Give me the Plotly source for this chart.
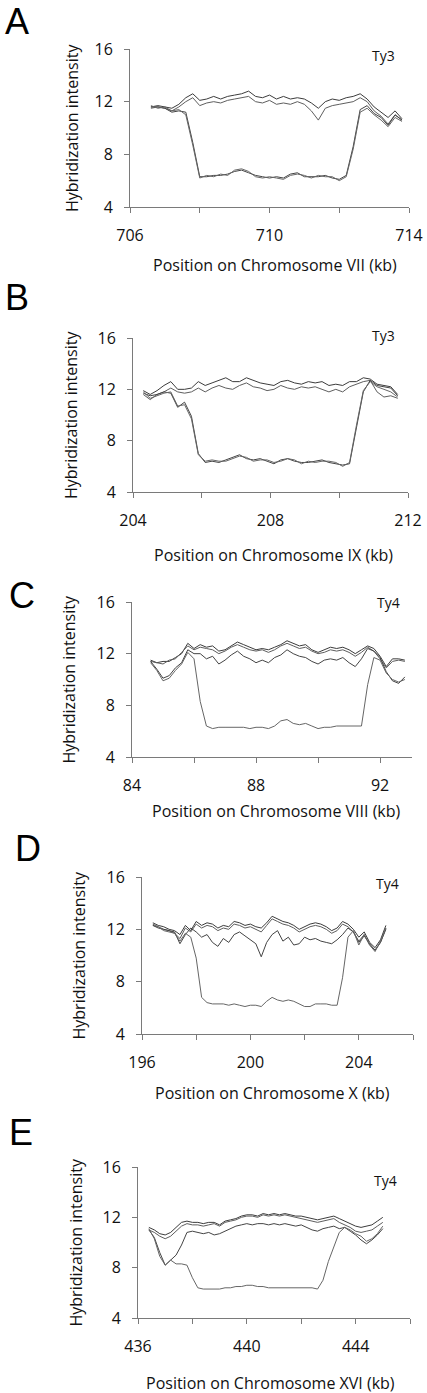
import plotly.graph_objects as go

# ---------------- data ----------------
# Panel A : Chromosome VII, Ty3
pos_a = [706.6, 706.8, 707.0, 707.2, 707.4, 707.6, 707.8, 708.0, 708.2, 708.4, 708.6, 708.8,
         709.0, 709.2, 709.4, 709.6, 709.8, 710.0, 710.2, 710.4, 710.6, 710.8, 711.0, 711.2,
         711.4, 711.6, 711.8, 712.0, 712.2, 712.4, 712.6, 712.8, 713.0, 713.2, 713.4, 713.6, 713.8]
a_top1 = [11.6, 11.7, 11.6, 11.5, 11.8, 12.3, 12.6, 12.1, 12.2, 12.4, 12.2, 12.4, 12.5, 12.6, 12.8, 12.4,
          12.3, 12.5, 12.2, 12.4, 12.2, 12.3, 12.2, 11.9, 11.5, 12.0, 12.2, 12.1, 12.3, 12.4, 12.6, 12.2,
          11.6, 11.2, 10.8, 11.3, 10.7]
a_top2 = [11.5, 11.6, 11.5, 11.3, 11.6, 12.0, 12.3, 11.7, 11.9, 12.0, 11.9, 12.1, 12.2, 12.3, 12.4, 12.0,
          11.9, 12.1, 11.8, 11.9, 11.8, 12.0, 11.8, 11.3, 10.6, 11.5, 11.7, 11.8, 11.9, 12.0, 12.3, 12.0,
          11.3, 10.9, 10.3, 11.0, 10.6]
a_low1 = [11.6, 11.6, 11.5, 11.2, 11.3, 11.2, 8.9, 6.3, 6.3, 6.4, 6.4, 6.5, 6.7, 6.8, 6.6, 6.4,
          6.3, 6.2, 6.3, 6.2, 6.5, 6.6, 6.3, 6.3, 6.3, 6.4, 6.2, 6.1, 6.4, 8.6, 11.4, 11.7,
          11.1, 10.8, 10.2, 11.0, 10.6]
a_low2 = [11.7, 11.5, 11.6, 11.3, 11.4, 11.0, 8.7, 6.2, 6.4, 6.3, 6.5, 6.4, 6.8, 6.9, 6.7, 6.3,
          6.2, 6.3, 6.2, 6.1, 6.4, 6.5, 6.4, 6.2, 6.4, 6.3, 6.3, 6.0, 6.3, 8.4, 11.2, 11.5,
          11.0, 10.6, 10.1, 10.8, 10.5]

# Panel B : Chromosome IX, Ty3
pos_b = [204.3, 204.5, 204.7, 204.9, 205.1, 205.3, 205.5, 205.7, 205.9, 206.1, 206.3, 206.5,
         206.7, 206.9, 207.1, 207.3, 207.5, 207.7, 207.9, 208.1, 208.3, 208.5, 208.7, 208.9,
         209.1, 209.3, 209.5, 209.7, 209.9, 210.1, 210.3, 210.5, 210.7, 210.9, 211.1, 211.3, 211.5, 211.7]
b_top1 = [11.9, 11.6, 11.9, 12.3, 12.6, 12.0, 12.0, 12.1, 12.6, 12.3, 12.5, 12.7, 12.9, 12.6, 12.6, 12.9,
          12.7, 12.5, 12.4, 12.3, 12.6, 12.7, 12.5, 12.4, 12.6, 12.5, 12.6, 12.3, 12.4, 12.3, 12.6, 12.6,
          12.9, 12.8, 12.4, 12.3, 12.2, 11.6]
b_top2 = [11.6, 11.2, 11.6, 11.8, 12.1, 11.8, 11.7, 11.8, 12.1, 11.8, 12.1, 12.3, 12.1, 12.0, 12.3, 12.5,
          12.2, 12.1, 11.9, 12.0, 12.3, 12.1, 12.0, 12.2, 12.1, 12.2, 12.0, 11.8, 12.0, 11.8, 12.2, 12.4,
          12.6, 12.7, 11.8, 11.4, 11.5, 11.3]
b_low1 = [11.7, 11.5, 11.6, 11.8, 11.7, 10.6, 11.0, 9.9, 7.0, 6.3, 6.4, 6.3, 6.5, 6.7, 6.9, 6.6,
          6.5, 6.6, 6.4, 6.2, 6.5, 6.6, 6.4, 6.3, 6.3, 6.4, 6.5, 6.3, 6.2, 6.1, 6.2, 9.0,
          11.8, 12.7, 12.3, 12.2, 12.1, 11.5]
b_low2 = [11.8, 11.3, 11.5, 11.7, 11.8, 10.7, 10.8, 9.7, 6.9, 6.4, 6.5, 6.4, 6.4, 6.6, 6.8, 6.7,
          6.4, 6.5, 6.5, 6.3, 6.4, 6.6, 6.5, 6.2, 6.4, 6.3, 6.4, 6.4, 6.3, 6.0, 6.3, 9.2,
          11.9, 12.6, 12.2, 12.0, 11.8, 11.4]

# Panel C : Chromosome VIII, Ty4
pos_c = [84.6, 84.8, 85.0, 85.2, 85.4, 85.6, 85.8, 86.0, 86.2, 86.4, 86.6, 86.8, 87.0, 87.2,
         87.4, 87.6, 87.8, 88.0, 88.2, 88.4, 88.6, 88.8, 89.0, 89.2, 89.4, 89.6, 89.8, 90.0,
         90.2, 90.4, 90.6, 90.8, 91.0, 91.2, 91.4, 91.6, 91.8, 92.0, 92.2, 92.4, 92.6, 92.8]
c_top1 = [11.5, 11.3, 11.4, 11.4, 11.7, 12.0, 12.8, 12.4, 12.7, 12.5, 12.6, 12.2, 12.3, 12.6,
          12.9, 12.7, 12.5, 12.3, 12.4, 12.3, 12.5, 12.7, 13.0, 12.8, 12.6, 12.7, 12.3, 12.1,
          12.3, 12.5, 12.4, 12.5, 12.3, 12.0, 12.3, 12.6, 12.4, 11.8, 11.0, 11.6, 11.6, 11.5]
c_top2 = [11.4, 11.3, 11.2, 11.5, 11.6, 12.1, 12.6, 12.3, 12.5, 12.4, 12.3, 12.0, 12.2, 12.5,
          12.7, 12.5, 12.3, 12.2, 12.3, 12.1, 12.3, 12.6, 12.8, 12.6, 12.4, 12.5, 12.2, 12.0,
          12.1, 12.3, 12.2, 12.3, 12.1, 11.8, 12.1, 12.5, 12.2, 11.6, 10.9, 11.4, 11.5, 11.4]
c_mid = [11.4, 10.8, 10.1, 10.3, 10.9, 11.3, 12.3, 12.0, 12.0, 11.6, 11.8, 11.2, 11.5, 11.9,
         12.2, 11.8, 11.6, 11.3, 11.5, 11.3, 11.7, 11.9, 12.3, 12.0, 11.8, 11.7, 11.4, 11.2,
         11.5, 11.6, 11.5, 11.7, 11.3, 11.0, 11.6, 12.4, 12.2, 11.7, 10.6, 9.9, 9.7, 10.2]
c_low = [11.3, 10.7, 9.9, 10.1, 10.7, 11.2, 12.1, 11.6, 8.3, 6.4, 6.2, 6.3, 6.3, 6.3,
         6.3, 6.3, 6.2, 6.3, 6.3, 6.2, 6.4, 6.8, 6.9, 6.6, 6.5, 6.6, 6.4, 6.2,
         6.3, 6.3, 6.4, 6.4, 6.4, 6.4, 6.4, 9.6, 11.7, 11.5, 10.5, 10.0, 9.8, 10.0]

# Panel D : Chromosome X, Ty4
pos_d = [196.4, 196.6, 196.8, 197.0, 197.2, 197.4, 197.6, 197.8, 198.0, 198.2, 198.4, 198.6,
         198.8, 199.0, 199.2, 199.4, 199.6, 199.8, 200.0, 200.2, 200.4, 200.6, 200.8, 201.0,
         201.2, 201.4, 201.6, 201.8, 202.0, 202.2, 202.4, 202.6, 202.8, 203.0, 203.2, 203.4,
         203.6, 203.8, 204.0, 204.2, 204.4, 204.6, 204.8, 205.0]
d_top1 = [12.5, 12.3, 12.2, 12.0, 11.9, 11.6, 12.3, 11.9, 12.6, 12.3, 12.5, 12.4, 12.1, 12.3, 12.2,
          12.6, 12.5, 12.3, 12.4, 12.2, 12.1, 12.5, 13.0, 12.8, 12.6, 12.5, 12.3, 12.0, 12.2, 12.4,
          12.5, 12.4, 12.2, 11.9, 12.1, 12.6, 12.4, 12.0, 11.4, 11.8, 11.0, 10.6, 11.2, 12.3]
d_top2 = [12.3, 12.2, 12.0, 11.9, 11.7, 11.3, 12.1, 11.8, 12.4, 12.1, 12.3, 12.2, 11.9, 12.1, 12.0,
          12.4, 12.3, 12.1, 12.2, 12.0, 11.8, 12.3, 12.8, 12.6, 12.4, 12.3, 12.1, 11.8, 12.0, 12.2,
          12.3, 12.2, 12.0, 11.7, 11.9, 12.4, 12.2, 11.8, 11.1, 11.6, 10.8, 10.4, 11.0, 12.1]
d_mid = [12.3, 12.1, 12.0, 11.9, 11.8, 10.9, 11.6, 12.1, 11.8, 11.4, 11.6, 11.0, 10.7, 11.3, 11.0,
         11.6, 11.8, 11.5, 11.2, 10.9, 9.9, 11.0, 11.6, 11.9, 11.1, 11.4, 10.8, 10.9, 11.4, 11.2,
         11.3, 11.1, 11.0, 10.9, 11.2, 11.6, 12.1, 11.8, 11.0, 11.5, 10.9, 10.4, 11.0, 12.0]
d_low = [12.4, 12.2, 11.9, 11.8, 11.7, 11.1, 11.7, 11.4, 9.8, 6.8, 6.4, 6.3, 6.3, 6.3, 6.2,
         6.3, 6.2, 6.1, 6.2, 6.2, 6.1, 6.5, 6.8, 6.6, 6.5, 6.6, 6.5, 6.3, 6.1, 6.1,
         6.3, 6.3, 6.3, 6.2, 6.2, 8.3, 11.4, 11.9, 10.8, 11.6, 10.8, 10.3, 11.1, 12.1]

# Panel E : Chromosome XVI, Ty4
pos_e = [436.4, 436.6, 436.8, 437.0, 437.2, 437.4, 437.6, 437.8, 438.0, 438.2, 438.4, 438.6,
         438.8, 439.0, 439.2, 439.4, 439.6, 439.8, 440.0, 440.2, 440.4, 440.6, 440.8, 441.0,
         441.2, 441.4, 441.6, 441.8, 442.0, 442.2, 442.4, 442.6, 442.8, 443.0, 443.2, 443.4,
         443.6, 443.8, 444.0, 444.2, 444.4, 444.6, 444.8, 445.0]
e_top1 = [11.2, 11.0, 10.7, 10.6, 10.8, 11.2, 11.6, 11.7, 11.6, 11.6, 11.5, 11.6, 11.6, 11.4, 11.7,
          11.8, 11.9, 12.1, 12.2, 12.2, 12.1, 12.3, 12.2, 12.3, 12.2, 12.3, 12.2, 12.1, 12.1, 12.0,
          11.9, 11.8, 11.9, 12.0, 12.1, 11.9, 11.7, 11.5, 11.3, 11.2, 11.3, 11.4, 11.7, 12.0]
e_top2 = [11.0, 10.8, 10.5, 10.3, 10.5, 10.9, 11.3, 11.5, 11.4, 11.4, 11.3, 11.4, 11.5, 11.3, 11.6,
          11.7, 11.8, 12.0, 12.1, 12.1, 12.0, 12.2, 12.1, 12.2, 12.1, 12.2, 12.1, 12.0, 11.9, 11.8,
          11.7, 11.6, 11.7, 11.8, 11.9, 11.6, 11.4, 11.2, 10.9, 10.8, 10.9, 11.0, 11.3, 11.6]
e_mid = [11.0, 10.4, 9.2, 8.2, 8.6, 9.0, 9.8, 10.8, 10.9, 10.8, 10.7, 10.8, 10.6, 10.7, 10.9,
         11.1, 11.3, 11.4, 11.5, 11.4, 11.5, 11.5, 11.4, 11.5, 11.4, 11.5, 11.4, 11.3, 11.4, 11.2,
         11.0, 10.9, 11.1, 11.2, 11.3, 11.1, 11.2, 10.9, 10.6, 10.2, 9.9, 10.2, 10.6, 11.1]
e_low = [11.1, 10.3, 8.9, 8.2, 8.6, 8.3, 8.3, 8.2, 7.2, 6.4, 6.3, 6.3, 6.3, 6.3, 6.4,
         6.4, 6.5, 6.5, 6.6, 6.6, 6.5, 6.5, 6.4, 6.4, 6.4, 6.4, 6.4, 6.4, 6.4, 6.4,
         6.4, 6.3, 7.0, 8.5, 9.7, 10.8, 11.2, 11.0, 10.7, 10.5, 10.1, 10.3, 10.7, 11.3]

y_ticks = [4, 8, 12, 16]

panels = [
    dict(letter="A", label="Ty3", title="Position on Chromosome VII (kb)",
         pos=pos_a, series=[a_top1, a_top2, a_low1, a_low2],
         xrange=[706, 714], xticks=[706, 708, 710, 712, 714], xlabels=["706", "", "710", "", "714"],
         px=(130, 409), py=(49, 207), lx=17, ly=22, yt_x=72, xt_y=265, xt_x=275, ty=(383, 55)),
    dict(letter="B", label="Ty3", title="Position on Chromosome IX (kb)",
         pos=pos_b, series=[b_top1, b_top2, b_low1, b_low2],
         xrange=[204, 212], xticks=[204, 206, 208, 210, 212], xlabels=["204", "", "208", "", "212"],
         px=(133, 408), py=(338, 492), lx=17, ly=298, yt_x=71, xt_y=555, xt_x=273, ty=(383, 335)),
    dict(letter="C", label="Ty4", title="Position on Chromosome VIII (kb)",
         pos=pos_c, series=[c_top1, c_top2, c_mid, c_low],
         xrange=[84, 93.03], xticks=[84, 86, 88, 90, 92], xlabels=["84", "", "88", "", "92"],
         px=(132, 412), py=(602, 757), lx=22, ly=595, yt_x=68, xt_y=811, xt_x=276, ty=(388, 602)),
    dict(letter="D", label="Ty4", title="Position on Chromosome X (kb)",
         pos=pos_d, series=[d_top1, d_top2, d_mid, d_low],
         xrange=[196, 206], xticks=[196, 198, 200, 202, 204, 206], xlabels=["196", "", "200", "", "204", ""],
         px=(142, 413), py=(877, 1034), lx=28, ly=848, yt_x=78, xt_y=1093, xt_x=272, ty=(387, 883)),
    dict(letter="E", label="Ty4", title="Position on Chromosome XVI (kb)",
         pos=pos_e, series=[e_top1, e_top2, e_mid, e_low],
         xrange=[436, 446], xticks=[436, 438, 440, 442, 444, 446], xlabels=["436", "", "440", "", "444", ""],
         px=(138, 410), py=(1167, 1318), lx=21, ly=1132, yt_x=75, xt_y=1383, xt_x=270, ty=(385, 1180)),
]

W, H = 427, 1393
FONT = "Open Sans, Liberation Sans, sans-serif"
line_colors = ["#3c3c3c", "#5e5e5e", "#444444", "#666666"]
AX = "#7a7a7a"

fig = go.Figure()
annotations = []
layout_axes = {}

for i, p in enumerate(panels):
    n = "" if i == 0 else str(i + 1)
    xa, ya = "x" + n, "y" + n
    for k, s in enumerate(p["series"]):
        fig.add_trace(go.Scatter(x=p["pos"], y=s, mode="lines", xaxis=xa, yaxis=ya,
                                 line=dict(color=line_colors[k], width=1), showlegend=False,
                                 hoverinfo="skip"))
    layout_axes["xaxis" + n] = dict(
        domain=[p["px"][0] / W, p["px"][1] / W], anchor=ya, range=p["xrange"],
        tickvals=p["xticks"], ticktext=p["xlabels"], ticks="outside", ticklen=5,
        tickcolor=AX, tickwidth=1, showline=True, linecolor=AX, linewidth=1,
        showgrid=False, zeroline=False, automargin=False, ticklabelstandoff=9,
        tickfont=dict(family=FONT, size=16, color="#111111"))
    layout_axes["yaxis" + n] = dict(
        domain=[1 - p["py"][1] / H, 1 - p["py"][0] / H], anchor=xa, range=[4, 16],
        tickvals=y_ticks, ticks="outside", ticklen=5, tickcolor=AX, tickwidth=1,
        showline=True, linecolor=AX, linewidth=1, showgrid=False, zeroline=False,
        automargin=False, ticklabelstandoff=8,
        tickfont=dict(family=FONT, size=16, color="#111111"))
    ymid = (p["py"][0] + p["py"][1]) / 2
    annotations += [
        dict(text=p["letter"], x=p["lx"] / W, y=1 - p["ly"] / H, xref="paper", yref="paper",
             xanchor="center", yanchor="middle", showarrow=False,
             font=dict(family="Liberation Sans, Arial, sans-serif", size=36, color="#000000")),
        dict(text=p["label"], x=p["ty"][0] / W, y=1 - p["ty"][1] / H, xref="paper", yref="paper",
             xanchor="center", yanchor="middle", showarrow=False,
             font=dict(family=FONT, size=14, color="#111111")),
        dict(text=p["title"], x=p["xt_x"] / W, y=1 - p["xt_y"] / H, xref="paper", yref="paper",
             xanchor="center", yanchor="middle", showarrow=False,
             font=dict(family=FONT, size=16, color="#111111")),
        dict(text="Hybridization intensity", x=p["yt_x"] / W, y=1 - ymid / H, xref="paper",
             yref="paper", xanchor="center", yanchor="middle", textangle=-90, showarrow=False,
             font=dict(family=FONT, size=16, color="#111111")),
    ]

fig.update_layout(width=W, height=H, margin=dict(l=0, r=0, t=0, b=0, pad=0, autoexpand=False),
                  paper_bgcolor="white", plot_bgcolor="white", showlegend=False,
                  annotations=annotations, **layout_axes)

# remove the default 8px page margin so the figure sits at the window's top-left corner
fig.write_html("out.html", config={"displayModeBar": False},
               post_script="document.body.style.margin='0px';")
